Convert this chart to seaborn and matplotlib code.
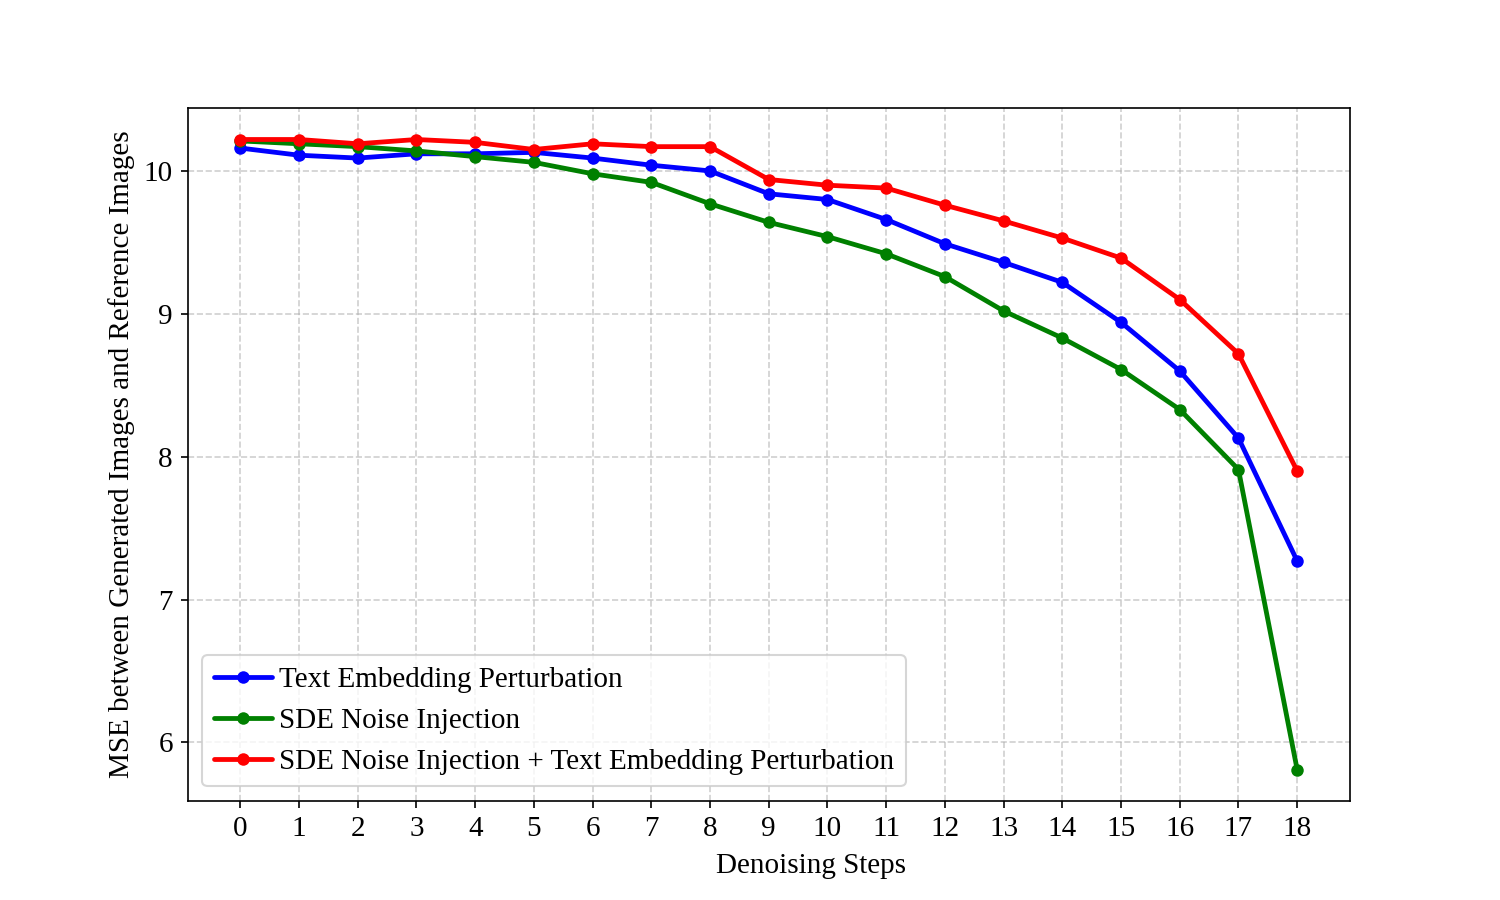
import numpy as np
import pandas as pd
import matplotlib
matplotlib.use("Agg")
import matplotlib.pyplot as plt
import seaborn as sns

steps = list(range(19))
text_embed = [10.16, 10.11, 10.09, 10.12, 10.12, 10.13, 10.09, 10.04, 10.00, 9.84,
              9.80, 9.66, 9.49, 9.36, 9.22, 8.94, 8.60, 8.13, 7.27]
sde_noise = [10.21, 10.19, 10.17, 10.14, 10.10, 10.06, 9.98, 9.92, 9.77, 9.64,
             9.54, 9.42, 9.26, 9.02, 8.83, 8.61, 8.33, 7.91, 5.81]
sde_plus_text = [10.22, 10.22, 10.19, 10.22, 10.20, 10.15, 10.19, 10.17, 10.17, 9.94,
                 9.90, 9.88, 9.76, 9.65, 9.53, 9.39, 9.10, 8.72, 7.90]
labels = ["Text Embedding Perturbation", "SDE Noise Injection",
          "SDE Noise Injection + Text Embedding Perturbation"]
colors = ["blue", "green", "red"]

sns.set_style("ticks")
plt.rcParams['font.family'] = ['Liberation Serif', 'DejaVu Serif']
plt.rcParams['text.color'] = 'black'
plt.rcParams['axes.labelcolor'] = 'black'
plt.rcParams['xtick.color'] = 'black'
plt.rcParams['ytick.color'] = 'black'

fig, ax = plt.subplots(figsize=(10, 6), dpi=150)
for vals, lab, col in zip([text_embed, sde_noise, sde_plus_text], labels, colors):
    df = pd.DataFrame({"step": steps, "mse": vals})
    sns.lineplot(data=df, x="step", y="mse", ax=ax, color=col, marker="o",
                 markersize=6, markeredgewidth=0, linewidth=2.3, label=lab)

ax.set_xticks(steps)
ax.set_xticklabels([str(s) for s in steps])
ax.tick_params(labelsize=14, length=3.5, width=0.8, colors="black")
ax.set_xlabel("Denoising Steps", fontsize=14, color="black")
ax.xaxis.set_label_coords(0.536, -0.075)
ax.set_ylabel("MSE between Generated Images and Reference Images", fontsize=14, color="black")
ax.grid(True, linestyle="--", color="#b0b0b0", alpha=0.6, linewidth=0.8)
for sp in ax.spines.values():
    sp.set_color("black")
    sp.set_linewidth(0.8)
ax.margins(x=0.05, y=0.05)
leg = ax.legend(loc="lower left", fontsize=14, frameon=True, framealpha=0.8,
                edgecolor="#cccccc", fancybox=True, handletextpad=0.25,
                labelspacing=0.5)
for t in leg.get_texts():
    t.set_color("black")
fig.subplots_adjust(left=0.125, right=0.9, bottom=0.11, top=0.88)
fig.savefig("out.png", dpi=150)
